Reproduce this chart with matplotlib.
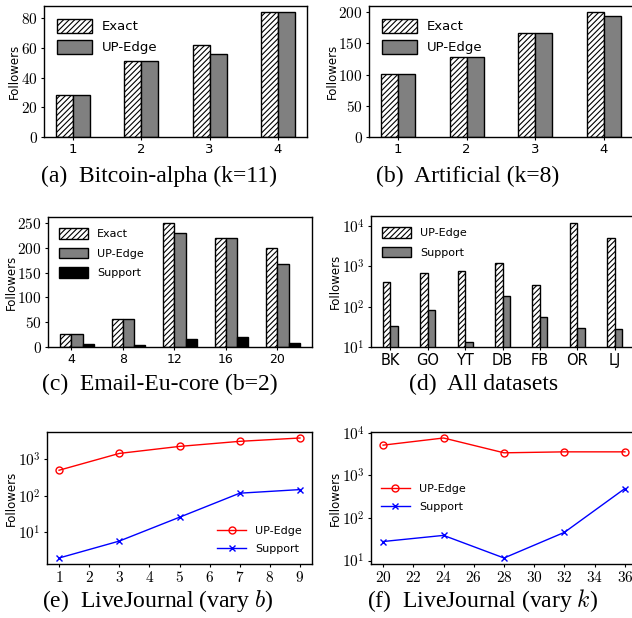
import matplotlib
matplotlib.use("Agg")
import matplotlib.pyplot as plt
import numpy as np
from matplotlib.ticker import FuncFormatter, LogLocator, NullLocator

plt.rcParams['font.family'] = ['DejaVu Sans']
plt.rcParams['mathtext.fontset'] = 'cm'
plt.rcParams['hatch.linewidth'] = 0.8

# ---- data ----
a_k = ["1", "2", "3", "4"]
a_exact = [28, 51, 62, 84]
a_upedge = [28, 51, 56, 84]

b_k = ["1", "2", "3", "4"]
b_exact = [101, 128, 166, 200]
b_upedge = [101, 128, 166, 194]

c_k = ["4", "8", "12", "16", "20"]
c_exact = [26, 56, 250, 220, 199]
c_upedge = [26, 56, 230, 220, 167]
c_support = [7, 4, 16, 20, 8]

d_names = ["BK", "GO", "YT", "DB", "FB", "OR", "LJ"]
d_upedge = [400, 700, 780, 1200, 350, 12000, 5000]
d_support = [33, 83, 13, 185, 57, 30, 28]

e_b = [1, 3, 5, 7, 9]
e_upedge = [500, 1440, 2240, 3080, 3800]
e_support = [2, 5.8, 26, 118, 148]

f_k = [20, 24, 28, 32, 36]
f_upedge = [5100, 7500, 3370, 3550, 3550]
f_support = [28, 39, 11.5, 46, 490]

W, H = 632, 618
fig = plt.figure(figsize=(W / 100, H / 100), dpi=100)

def ax_px(l, t, r, b):
    return fig.add_axes([l / W, 1 - b / H, (r - l) / W, (b - t) / H])

GRAY = '#808080'
HATCH = '//////'

def lin_fmt():
    return FuncFormatter(lambda v, p: r'$%d$' % int(round(v)))

def log_fmt():
    return FuncFormatter(lambda v, p: r'$10^{%d}$' % int(round(np.log10(v))))

def caption(x, y, s):
    fig.text(x / W, 1 - y / H, s, ha='center', va='center',
             family='Liberation Serif', fontsize=17)

def style(ax):
    ax.set_ylabel('Followers', fontsize=8.5, labelpad=0)
    ax.tick_params(axis='both', length=2.5, width=0.8, pad=2)
    for s in ax.spines.values():
        s.set_linewidth(1.0)

def bar2(ax, cats, v1, v2, yt, w=0.25):
    x = np.arange(len(cats)) + 1
    ax.bar(x - w, v1, w, align='edge', color='white', edgecolor='black',
           hatch=HATCH, linewidth=1.0, label='Exact')
    ax.bar(x, v2, w, align='edge', color=GRAY, edgecolor='black',
           linewidth=1.0, label='UP-Edge')
    ax.set_xticks(x)
    ax.set_xticklabels(cats, fontsize=9.5)
    ax.set_yticks(yt)
    ax.yaxis.set_major_formatter(lin_fmt())
    ax.tick_params(axis='y', labelsize=11)
    ax.legend(loc='upper left', frameon=False, fontsize=9.5,
              handlelength=2.6, handleheight=1.2, borderaxespad=0.6,
              labelspacing=0.5)
    style(ax)

# (a)
ax = ax_px(44, 6, 307, 137)
bar2(ax, a_k, a_exact, a_upedge, [0, 20, 40, 60, 80])
caption(159, 176, '(a)  Bitcoin-alpha (k=11)')

# (b)
ax = ax_px(369, 6, 633, 137)
bar2(ax, b_k, b_exact, b_upedge, [0, 50, 100, 150, 200])
caption(468, 176, '(b)  Artificial (k=8)')

# (c)
ax = ax_px(48, 217, 312, 347)
w = 0.22
x = np.arange(len(c_k))
ax.bar(x - w, c_exact, w, align='edge', color='white', edgecolor='black',
       hatch=HATCH, linewidth=1.0, label='Exact')
ax.bar(x, c_upedge, w, align='edge', color=GRAY, edgecolor='black',
       linewidth=1.0, label='UP-Edge')
ax.bar(x + w, c_support, w, align='edge', color='black', edgecolor='black',
       linewidth=1.0, label='Support')
ax.set_xticks(x)
ax.set_xticklabels(c_k, fontsize=9)
ax.set_yticks([0, 50, 100, 150, 200, 250])
ax.yaxis.set_major_formatter(lin_fmt())
ax.tick_params(axis='y', labelsize=11)
ax.legend(loc='upper left', frameon=False, fontsize=8,
          handlelength=2.6, handleheight=1.1, borderaxespad=0.6,
          labelspacing=0.75)
style(ax)
caption(160, 384, '(c)  Email-Eu-core (b=2)')

# (d)
ax = ax_px(371, 216, 634, 347)
w = 0.2
x = np.arange(len(d_names))
ax.bar(x - w, d_upedge, w, align='edge', color='white', edgecolor='black',
       hatch=HATCH, linewidth=1.0, label='UP-Edge')
ax.bar(x, d_support, w, align='edge', color=GRAY, edgecolor='black',
       linewidth=1.0, label='Support')
ax.set_yscale('log')
ax.set_ylim(10, 10 ** 4.25)
ax.yaxis.set_major_locator(LogLocator(base=10, numticks=10))
ax.yaxis.set_minor_locator(NullLocator())
ax.yaxis.set_major_formatter(log_fmt())
ax.set_xticks(x)
ax.set_xticklabels(d_names, fontsize=10.5)
ax.tick_params(axis='y', labelsize=11)
ax.legend(loc='upper left', frameon=False, fontsize=8,
          handlelength=2.6, handleheight=1.1, borderaxespad=0.6,
          labelspacing=0.75)
style(ax)
caption(484, 384, '(d)  All datasets')

# (e)
ax = ax_px(47, 432, 312, 564)
ax.plot(e_b, e_upedge, color='red', marker='o', markerfacecolor='none',
        markersize=5, linewidth=1.0, label='UP-Edge')
ax.plot(e_b, e_support, color='blue', marker='x', markersize=5,
        linewidth=1.0, label='Support')
ax.set_yscale('log')
ax.yaxis.set_major_locator(LogLocator(base=10, numticks=10))
ax.yaxis.set_minor_locator(NullLocator())
ax.yaxis.set_major_formatter(log_fmt())
ax.set_xticks(range(1, 10))
ax.xaxis.set_major_formatter(lin_fmt())
ax.tick_params(axis='both', labelsize=11)
ax.legend(loc='lower right', frameon=False, fontsize=8,
          handlelength=2.6, borderaxespad=0.5, labelspacing=0.75)
style(ax)
caption(158, 601, '(e)  LiveJournal (vary $b$)')

# (f)
ax = ax_px(371, 432, 637, 564)
ax.plot(f_k, f_upedge, color='red', marker='o', markerfacecolor='none',
        markersize=5, linewidth=1.0, label='UP-Edge')
ax.plot(f_k, f_support, color='blue', marker='x', markersize=5,
        linewidth=1.0, label='Support')
ax.set_yscale('log')
ax.yaxis.set_major_locator(LogLocator(base=10, numticks=10))
ax.yaxis.set_minor_locator(NullLocator())
ax.yaxis.set_major_formatter(log_fmt())
ax.set_xticks(range(20, 37, 2))
ax.xaxis.set_major_formatter(lin_fmt())
ax.tick_params(axis='both', labelsize=11)
ax.legend(loc='center left', bbox_to_anchor=(0.0, 0.5), frameon=False,
          fontsize=8, handlelength=2.6, labelspacing=0.75)
style(ax)
caption(483, 601, '(f)  LiveJournal (vary $k$)')

fig.savefig('out.png', dpi=100)
